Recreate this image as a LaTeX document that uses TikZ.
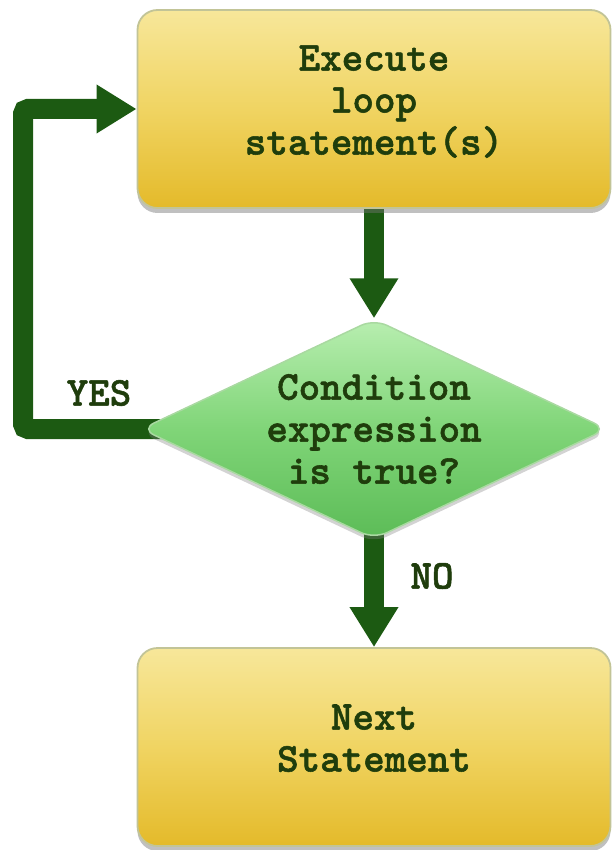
\documentclass[tikz,border=0pt]{standalone}
\usepackage{fontspec}
\newfontfamily\codefont{lmmonolt10-bold.otf}[FakeBold=1.3]
\usetikzlibrary{arrows.meta,shapes.geometric,shadows}
\definecolor{flowgreen}{HTML}{1C5A12}
\definecolor{inkgreen}{HTML}{1F3D0C}
\definecolor{boxtop}{HTML}{F7E79A}
\definecolor{boxmid}{HTML}{F0D462}
\definecolor{boxbot}{HTML}{E4BA2A}
\definecolor{boxedge}{HTML}{C2C497}
\definecolor{dtop}{HTML}{B8EEB0}
\definecolor{dmid}{HTML}{80D578}
\definecolor{dbot}{HTML}{5CBC57}
\definecolor{dedge}{HTML}{A9D9A1}
\pgfdeclarelayer{background}
\pgfsetlayers{background,main}
\tikzset{
  codetext/.style={font=\codefont\fontsize{41}{42}\selectfont, text=inkgreen, align=center},
  stepbox/.style={draw=boxedge, line width=1.8pt, rounded corners=20pt,
    top color=boxtop, bottom color=boxbot, middle color=boxmid,
    minimum width=473pt, minimum height=198pt, inner sep=0pt, codetext, text depth=18pt,
    drop shadow={shadow xshift=0pt, shadow yshift=-5pt, opacity=0.45, fill=black!55}},
  decision/.style={diamond, draw=dedge, line width=1.5pt, rounded corners=14pt,
    top color=dtop, bottom color=dbot, middle color=dmid,
    minimum width=466pt, minimum height=220pt, inner sep=0pt,
    drop shadow={shadow xshift=0pt, shadow yshift=-4pt, opacity=0.35, fill=black!50}},
  flow/.style={draw=flowgreen, line width=20pt,
    -{Triangle[width=46pt,length=40pt]}, flowgreen},
  looplabel/.style={codetext}
}
\begin{document}
\begin{tikzpicture}[x=1pt, y=-1pt]
\useasboundingbox (0,0) rectangle (613,850);

% boxes of the loop
\node[stepbox] (exec) at (374,109) {Execute\\loop\\statement(s)};
\node[decision] (cond) at (374,429) {};
\node[codetext] (condtext) at (cond.center) {Condition\\expression\\is true?};
\node[stepbox] (next) at (374,747) {Next\\Statement};

% the way back to the loop body and the way out
\coordinate (yesbend) at (23,0);
\begin{pgfonlayer}{background}
  \draw[flow] (exec.center) -- (cond.north);
  \draw[flow, rounded corners=5pt] (cond.center) -- (cond.center -| yesbend) |- (exec.west);
  \draw[flow] (cond.center) -- (next.north);
\end{pgfonlayer}

\node[looplabel] (yes) at (99,393) {YES};
\node[looplabel] (no) at (432,576) {NO};
\end{tikzpicture}
\end{document}
